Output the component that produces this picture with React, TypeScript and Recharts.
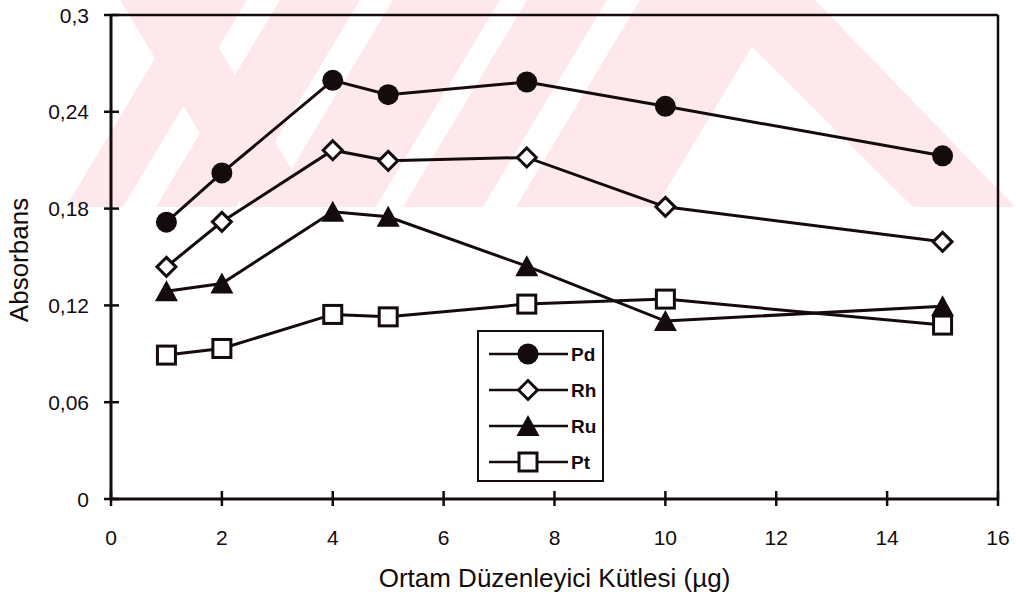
import React from 'react';
import { LineChart, Line, XAxis, YAxis, ReferenceLine, Legend } from 'recharts';

// Mass of the matrix modifier (µg) and absorbance of each element
const masses = [1, 2, 4, 5, 7.5, 10, 15];
const pdValues = [0.1716, 0.2021, 0.2595, 0.2506, 0.2585, 0.2434, 0.2127];
const rhValues = [0.1439, 0.1718, 0.2162, 0.2096, 0.2117, 0.1811, 0.1594];
const ruValues = [0.1288, 0.1336, 0.178, 0.1749, 0.1443, 0.1103, 0.1195];
const ptValues = [0.0892, 0.0933, 0.1144, 0.1129, 0.1208, 0.1239, 0.1078];

const seriesNames = ['Pd', 'Rh', 'Ru', 'Pt'];
const xTicks = [0, 2, 4, 6, 8, 10, 12, 14, 16];
const yTicks = [0, 0.06, 0.12, 0.18, 0.24, 0.3];
const xTitle = 'Ortam Düzenleyici Kütlesi (µg)';
const yTitle = 'Absorbans';

const rows = masses.map((m, i) => ({
  mass: m,
  Pd: pdValues[i],
  Rh: rhValues[i],
  Ru: ruValues[i],
  Pt: ptValues[i],
}));

const INK = '#140b0d';
const FONT = "'Liberation Sans', Arial, Helvetica, sans-serif";
const TICK_SIZE = 7;
const Y_TICK_MARGIN = 15;
const X_TICK_MARGIN = 24;

const decimalComma = (v: number) => String(v).replace('.', ',');

// ---- markers ----
const CircleMark = ({ cx, cy }: any) => <circle cx={cx} cy={cy} r={10.5} fill={INK} />;
const DiamondMark = ({ cx, cy }: any) => (
  <polygon
    points={`${cx},${cy - 9.5} ${cx + 9.5},${cy} ${cx},${cy + 9.5} ${cx - 9.5},${cy}`}
    fill="#fff"
    stroke={INK}
    strokeWidth={3}
  />
);
const TriangleMark = ({ cx, cy }: any) => (
  <polygon
    points={`${cx},${cy - 11} ${cx + 11.5},${cy + 10} ${cx - 11.5},${cy + 10}`}
    fill={INK}
  />
);
const SquareMark = ({ cx, cy }: any) => (
  <rect x={cx - 9} y={cy - 9} width={18} height={18} fill="#fff" stroke={INK} strokeWidth={3} />
);

const markers: Record<string, any> = {
  Pd: CircleMark,
  Rh: DiamondMark,
  Ru: TriangleMark,
  Pt: SquareMark,
};

const dotFor = (name: string) => (p: any) => {
  const Mark = markers[name];
  return <Mark key={`${name}-${p.index}`} cx={p.cx} cy={p.cy} />;
};

// ---- axis ticks: outward part comes from tickLine, inward part drawn here ----
const renderYTick = (props: any) => {
  const x = Number(props.x);
  const y = Number(props.y);
  const axisX = x + TICK_SIZE + Y_TICK_MARGIN;
  return (
    <g key={`yt-${props.index}`}>
      <line x1={axisX} x2={axisX + 8} y1={y} y2={y} stroke={INK} strokeWidth={2.5} />
      <text x={x} y={y} dy="0.36em" textAnchor="end" fontSize={21} fontFamily={FONT} fill={INK}>
        {decimalComma(props.payload.value)}
      </text>
    </g>
  );
};

const renderXTick = (props: any) => {
  const x = Number(props.x);
  const y = Number(props.y);
  const axisY = y - TICK_SIZE - X_TICK_MARGIN;
  return (
    <g key={`xt-${props.index}`}>
      <line x1={x} x2={x} y1={axisY - 8} y2={axisY} stroke={INK} strokeWidth={2.5} />
      <text x={x} y={y} dy="0.71em" textAnchor="middle" fontSize={21} fontFamily={FONT} fill={INK}>
        {props.payload.value}
      </text>
    </g>
  );
};

const YTitle = (props: any) => {
  const { viewBox } = props;
  const cx = viewBox.x + 19;
  const cy = viewBox.y + viewBox.height / 2 + 3;
  return (
    <text
      x={cx}
      y={cy}
      transform={`rotate(-90 ${cx} ${cy})`}
      textAnchor="middle"
      dominantBaseline="central"
      fontSize={26}
      fontFamily={FONT}
      fill={INK}
    >
      {yTitle}
    </text>
  );
};

const XTitle = (props: any) => {
  const { viewBox } = props;
  return (
    <text
      x={viewBox.x + viewBox.width / 2}
      y={viewBox.y + 88}
      textAnchor="middle"
      fontSize={26}
      fontFamily={FONT}
      fill={INK}
    >
      {xTitle}
    </text>
  );
};

// ---- boxed legend, kept in series order ----
const LegendBox = ({ payload }: any) => {
  const items = [...(payload || [])].sort(
    (a: any, b: any) => seriesNames.indexOf(a.value) - seriesNames.indexOf(b.value)
  );
  return (
    <svg width={127} height={152} style={{ display: 'block' }}>
      <rect x={1} y={1} width={125} height={150} fill="#fff" stroke={INK} strokeWidth={2} />
      {items.map((item: any, i: number) => {
        const cy = 24 + i * 36;
        const Mark = markers[item.value];
        return (
          <g key={item.value}>
            <line x1={12} x2={91} y1={cy} y2={cy} stroke={INK} strokeWidth={2.5} />
            <Mark cx={51} cy={cy} />
            <text x={94} y={cy} dy="0.36em" fontSize={19} fontWeight="bold" fontFamily={FONT} fill={INK}>
              {item.value}
            </text>
          </g>
        );
      })}
    </svg>
  );
};

// ---- pale diagonal background pattern ----
const BAND_H = 207;
const slashBands = [
  [190, 247],
  [280, 360],
  [393, 500],
  [527, 607],
  [640, 780],
];
const backslashBands = [[120, 190]];

const Backdrop = () => {
  const pink = '#fde8ec';
  const s = 0.6;
  const dy = s * BAND_H;
  return (
    <svg width={1016} height={596} style={{ position: 'absolute', left: 0, top: 0 }}>
      {slashBands.map(([a, b], i) => (
        <polygon key={`s${i}`} points={`${a},0 ${b},0 ${b - dy},${BAND_H} ${a - dy},${BAND_H}`} fill={pink} />
      ))}
      {backslashBands.map(([a, b], i) => (
        <polygon key={`b${i}`} points={`${a},0 ${b},0 ${b + dy},${BAND_H} ${a + dy},${BAND_H}`} fill={pink} />
      ))}
      <polygon points={`705,0 815,0 1015,${BAND_H} 913,${BAND_H}`} fill={pink} />
    </svg>
  );
};

export default function App() {
  return (
    <div style={{ position: 'absolute', left: 0, top: 0, width: 1016, height: 596, background: '#fff' }}>
      <Backdrop />
      <div style={{ position: 'absolute', left: 0, top: 0 }}>
        <LineChart width={1016} height={596} data={rows} margin={{ top: 15, right: 18, bottom: 0, left: 0 }}>
          <XAxis
            dataKey="mass"
            type="number"
            domain={[0, 16]}
            ticks={xTicks}
            interval={0}
            height={97}
            tickSize={TICK_SIZE}
            tickMargin={X_TICK_MARGIN}
            tickLine={{ stroke: INK, strokeWidth: 2.5 }}
            tick={renderXTick}
            axisLine={{ stroke: INK, strokeWidth: 3 }}
            label={<XTitle />}
          />
          <YAxis
            type="number"
            domain={[0, 0.3]}
            ticks={yTicks}
            interval={0}
            width={111}
            tickSize={TICK_SIZE}
            tickMargin={Y_TICK_MARGIN}
            tickLine={{ stroke: INK, strokeWidth: 2.5 }}
            tick={renderYTick}
            axisLine={{ stroke: INK, strokeWidth: 3 }}
            label={<YTitle />}
          />
          <ReferenceLine y={0.3} stroke={INK} strokeWidth={2.5} />
          <ReferenceLine x={16} stroke={INK} strokeWidth={2.5} />
          <Legend
            layout="horizontal"
            verticalAlign="middle"
            align="center"
            content={<LegendBox />}
            wrapperStyle={{ left: 477, top: 330, width: 127, height: 152 }}
          />
          {seriesNames.map((name) => (
            <Line
              key={name}
              name={name}
              dataKey={name}
              stroke={INK}
              strokeWidth={3}
              dot={dotFor(name)}
              activeDot={false}
              legendType="line"
              isAnimationActive={false}
            />
          ))}
        </LineChart>
      </div>
    </div>
  );
}
